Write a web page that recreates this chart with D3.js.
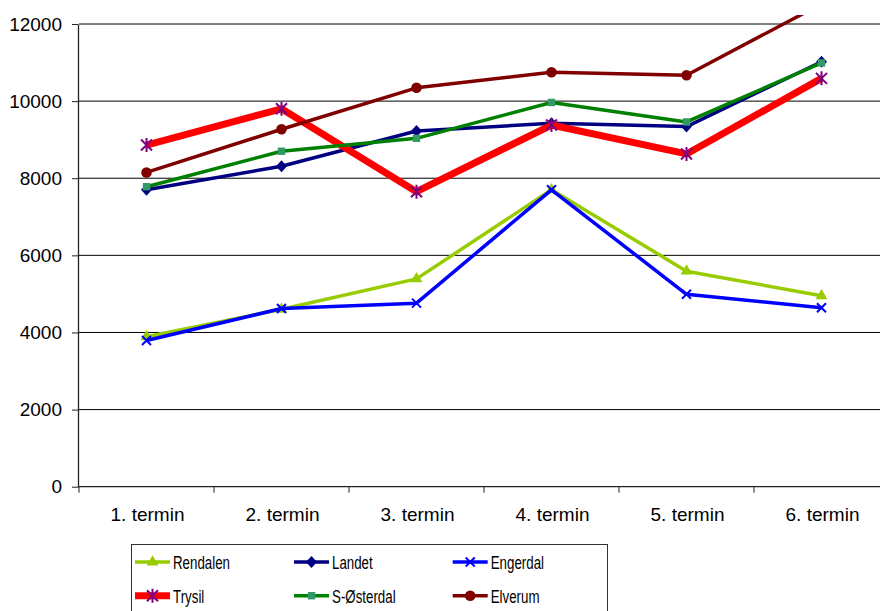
<!DOCTYPE html>
<html><head><meta charset="utf-8">
<script src="https://cdn.jsdelivr.net/npm/d3@7/dist/d3.min.js"></script>
<style>
body{margin:0;background:#fff;}
text{font-family:"Liberation Sans",Arial,sans-serif;fill:#000;}
</style></head>
<body><svg id="c" width="880" height="611"></svg>
<script>
const categories = ["1. termin","2. termin","3. termin","4. termin","5. termin","6. termin"];
const yTicks = [0,2000,4000,6000,8000,10000,12000];
const seriesNames = ["Rendalen","Landet","Engerdal","Trysil","S-Østerdal","Elverum"];
const rendalen  = [3890, 4600, 5390, 7700, 5590, 4950];
const landet    = [7700, 8310, 9225, 9425, 9340, 11020];
const engerdal  = [3790, 4620, 4760, 7700, 4990, 4640];
const trysil    = [8860, 9800, 7650, 9380, 8630, 10590];
const sosterdal = [7780, 8700, 9035, 9965, 9460, 10990];
const elverum   = [8150, 9270, 10345, 10750, 10670, 12520];

const seriesValues = [rendalen, landet, engerdal, trysil, sosterdal, elverum];
const styles = [
  {line:"#99CC00", marker:"triangle", mfill:"#99CC00", w:3.5},
  {line:"#000080", marker:"diamond", mfill:"#000080", w:3.5},
  {line:"#0000FF", marker:"x", mfill:"#0000FF", w:3.5},
  {line:"#FF0000", marker:"star", mfill:"#800080", w:7},
  {line:"#008000", marker:"square", mfill:"#339966", w:3.5},
  {line:"#800000", marker:"circle", mfill:"#800000", w:3.5}
];

const svg = d3.select("#c");
const x = d3.scaleBand().domain(categories).range([79, 889]);
const y = d3.scaleLinear().domain([0, 12000]).range([486.7, 24]);
const cx = c => x(c) + x.bandwidth()/2;

// gridlines
svg.append("g").selectAll("line").data(yTicks.filter(t => t > 0)).join("line")
  .attr("x1", 79).attr("x2", 880).attr("y1", d => y(d)).attr("y2", d => y(d))
  .attr("stroke", "#000").attr("stroke-width", 1);

// y axis
const ya = svg.append("g").attr("transform", "translate(78,0)")
  .call(d3.axisLeft(y).tickValues(yTicks).tickSize(6).tickSizeOuter(0).tickPadding(10).tickFormat(d3.format("d")));
ya.select(".domain").attr("stroke", "#222").attr("stroke-width", 1.3);
ya.selectAll(".tick line").attr("stroke", "#222");
ya.selectAll("text").attr("font-size", 19).attr("font-family", "Liberation Sans, Arial, sans-serif").attr("fill", "#000");

// x axis
svg.append("line").attr("x1", 78).attr("x2", 880).attr("y1", y(0)).attr("y2", y(0)).attr("stroke", "#222").attr("stroke-width", 1.3);
const bounds = categories.map(c => x(c)).concat([x.range()[1]]);
svg.append("g").selectAll("line").data(bounds).join("line")
  .attr("x1", d => d).attr("x2", d => d).attr("y1", y(0)).attr("y2", y(0) + 6)
  .attr("stroke", "#222");
svg.append("g").selectAll("text").data(categories).join("text")
  .attr("x", d => cx(d) + 1).attr("y", 520.5).attr("text-anchor", "middle")
  .attr("font-size", 19).text(d => d);

// clip
svg.append("clipPath").attr("id", "clip").append("rect")
  .attr("x", 79).attr("y", 15).attr("width", 810).attr("height", 480);

function marker(g, type, color, px, py, s) {
  s = s || 1;
  if (type === "triangle") {
    g.append("path").attr("d", d3.symbol(d3.symbolTriangle, 60*s*s)()).attr("transform", `translate(${px},${py})`).attr("fill", color);
  } else if (type === "diamond") {
    g.append("path").attr("d", `M0,-6L5.5,0L0,6L-5.5,0Z`).attr("transform", `translate(${px},${py}) scale(${s})`).attr("fill", color);
  } else if (type === "square") {
    g.append("rect").attr("x", px - 3.7*s).attr("y", py - 3.7*s).attr("width", 7.4*s).attr("height", 7.4*s).attr("fill", color);
  } else if (type === "circle") {
    g.append("circle").attr("cx", px).attr("cy", py).attr("r", 5.3*s).attr("fill", color);
  } else if (type === "x") {
    const r = 4.5*s;
    g.append("path").attr("d", `M${-r},${-r}L${r},${r}M${-r},${r}L${r},${-r}`).attr("transform", `translate(${px},${py})`).attr("stroke", color).attr("stroke-width", 2).attr("fill", "none");
  } else if (type === "star") {
    const r = 7*s, a = 5.5*s;
    g.append("path").attr("d", `M0,${-r}L0,${r}M${-a},${-a}L${a},${a}M${-a},${a}L${a},${-a}`).attr("transform", `translate(${px},${py})`).attr("stroke", color).attr("stroke-width", 2).attr("fill", "none");
  }
}

const plot = svg.append("g").attr("clip-path", "url(#clip)");
const line = d3.line().x((d, i) => cx(categories[i])).y(d => y(d));
seriesValues.forEach((vals, si) => {
  const st = styles[si];
  const g = plot.append("g");
  g.append("path").attr("d", line(vals)).attr("fill", "none").attr("stroke", st.line)
    .attr("stroke-width", st.w).attr("stroke-linejoin", "round");
  vals.forEach((v, i) => marker(g, st.marker, st.mfill, cx(categories[i]), y(v)));
});

// legend
const lg = svg.append("g");
lg.append("rect").attr("x", 131.5).attr("y", 544.5).attr("width", 476).attr("height", 80)
  .attr("fill", "#fff").attr("stroke", "#333").attr("stroke-width", 1);
const colX = [135, 294, 452.7];
const rowY = [562, 595.7];
seriesNames.forEach((name, i) => {
  const st = styles[i];
  const lx = colX[i % 3], ly = rowY[Math.floor(i / 3)];
  lg.append("line").attr("x1", lx).attr("x2", lx + 35).attr("y1", ly).attr("y2", ly)
    .attr("stroke", st.line).attr("stroke-width", st.w);
  marker(lg, st.marker, st.mfill, lx + 17.5, ly, 1);
  lg.append("text").attr("transform", `translate(${lx + 38},${ly + 6.8}) scale(0.72,1)`)
    .attr("font-size", 18.5).text(name);
});
</script></body></html>
